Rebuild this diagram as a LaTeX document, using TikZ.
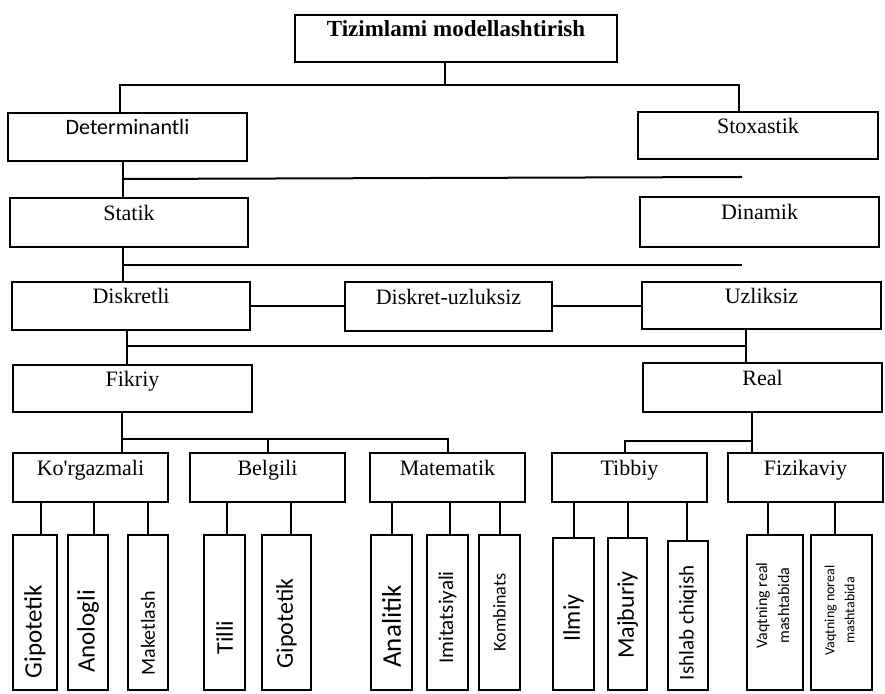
\documentclass[tikz,border=0pt]{standalone}
\usepackage{fontspec}
\setmainfont{Liberation Serif}
\newfontfamily\carlito{Carlito}
\usepackage{graphicx}
\usetikzlibrary{calc,positioning}

\newcommand{\vtext}[2][8]{\rotatebox{90}{#2\kern#1pt}}
\newcommand{\vtwo}[3][0]{\rotatebox{90}{\begin{tabular}{@{}c@{}}#2\\[3pt]#3\end{tabular}\kern#1pt}}

\tikzset{
    box/.style={draw, line width=1pt, inner sep=0pt, text height=8pt, text depth=10pt,
        font=\fontsize{11}{13}\selectfont},
    sub/.style={box, minimum width=77.5pt, minimum height=24.5pt},
    leaf/.style={draw, line width=1pt, inner sep=0pt, minimum height=77.5pt,
        font=\carlito\fontsize{#1}{#1}\selectfont},
    link/.style={line width=1pt},
}

\begin{document}
\begin{tikzpicture}[x=0.5pt,y=-0.5pt]
    \useasboundingbox (0,0) rectangle (885,694);

    % upper levels
    \node[box, minimum width=161pt, minimum height=23.5pt,
        font=\bfseries\fontsize{11.5}{13}\selectfont] (title) at (456,38.5) {Tizimlami modellashtirish};
    \node[box, minimum width=119.5pt, minimum height=24pt,
        font=\carlito\fontsize{11}{13}\selectfont] (det) at (127.5,137) {Determinantli};
    \node[box, minimum width=120pt, minimum height=23.5pt] (sto) at (758,135.5) {Stoxastik};
    \node[box, minimum width=119pt, minimum height=24.5pt] (stat) at (129,222.5) {Statik};
    \node[box, minimum width=119.5pt, minimum height=25pt] (din) at (759.5,222) {Dinamik};
    \node[box, minimum width=119pt, minimum height=24pt] (disk) at (131,306) {Diskretli};
    \node[box, minimum width=103.5pt, minimum height=24.5pt] (dku) at (448.5,306.5) {Diskret-uzluksiz};
    \node[box, minimum width=119.5pt, minimum height=23.5pt] (uzl) at (761.5,305.5) {Uzliksiz};
    \node[box, minimum width=119.5pt, minimum height=23.5pt] (fik) at (132.5,388.5) {Fikriy};
    \node[box, minimum width=119.5pt, minimum height=24.5pt] (real) at (762.5,387.5) {Real};

    % model kinds
    \node[sub] (korg) at (90.5,477.5) {Ko\textquotesingle rgazmali};
    \node[sub] (bel) at (267.5,477.5) {Belgili};
    \node[sub] (mat) at (447.5,477.5) {Matematik};
    \node[sub] (tib) at (629.5,477.5) {Tibbiy};
    \node[sub] (fiz) at (805.5,477.5) {Fizikaviy};

    % leaves
    \node[leaf=12.5, minimum width=22pt] (gip) at (35,612.5) {\vtext[19]{Gipotetik}};
    \node[leaf=12.5, minimum width=20pt] (ano) at (88,612.5) {\vtext[19]{Anologli}};
    \node[leaf=10, minimum width=20pt] (mak) at (148,612.5) {\vtext[21]{Maketlash}};
    \node[leaf=12, minimum width=20.5pt] (til) at (224.5,612.5) {\vtext[25]{Tilli}};
    \node[leaf=12, minimum width=24.5pt] (gipb) at (286.5,612.5) {\vtext[11]{Gipotetik}};
    \node[leaf=13.5, minimum width=20.5pt] (ana) at (391.5,612.5) {\vtext[14]{Analitik}};
    \node[leaf=10.5, minimum width=20.5pt] (imi) at (447.5,612.5) {\vtext[5]{Imitatsiyali}};
    \node[leaf=9, minimum width=20.5pt] (kom) at (499.5,612.5) {\vtext[0]{Kombinats}};
    \node[leaf=12, minimum width=20.5pt, minimum height=76pt] (ilm) at (573.5,614) {\vtext[4]{Ilmiy}};
    \node[leaf=12, minimum width=19.5pt, minimum height=76pt] (maj) at (627.5,614) {\vtext[1]{Majburiy}};
    \node[leaf=10.5, minimum width=20pt, minimum height=74.5pt] (ish) at (688,615.5) {\vtext[7]{Ishlab chiqish}};
    \node[leaf=8, minimum width=28pt] (vr) at (775,612.5) {\vtwo[-7]{Vaqtning real}{mashtabida}};
    \node[leaf=7, minimum width=30.5pt] (vn) at (841.5,612.5) {\vtwo[-2]{Vaqtning noreal}{mashtabida}};

    % title split
    \coordinate (j1) at ($(title.south)+(-11,22)$);
    \draw[link] (j1 |- title.south) -- (j1);
    \draw[link] ($(det.north)+(-7.5,0)$) |- (j1) -| ($(sto.north)+(-19,0)$);

    % Determinantli -> Statik
    \draw[link] ($(det.south)+(-4.5,0)$) -- ($(stat.north)+(-6,0)$);
    \coordinate (j2) at ($(det.south)+(-4.5,17)$);
    \coordinate (e2) at ($(din.north)+(-17.5,-19)$);
    \draw[link] (j2) -- (e2);

    % Statik -> Diskretli
    \draw[link] ($(stat.south)+(-6,0)$) -- ($(disk.north)+(-8,0)$);
    \coordinate (j3) at ($(stat.south)+(-6,17)$);
    \coordinate (e3) at ($(din.south)+(-17.5,17)$);
    \draw[link] (j3) -- (e3);

    % discrete row
    \draw[link] (disk.east) -- (disk.east -| dku.west);
    \draw[link] (dku.east) -- (dku.east -| uzl.west);

    % Diskretli -> Fikriy, Uzliksiz -> Real
    \draw[link] ($(disk.south)+(-4,0)$) -- ($(fik.north)+(-5.5,0)$);
    \draw[link] ($(uzl.south)+(-15.5,0)$) -- ($(real.north)+(-16.5,0)$);
    \coordinate (j5) at ($(disk.south)+(-4,15)$);
    \coordinate (r5) at ($(real.north)+(-16.5,0)$);
    \draw[link] (j5) -- (j5 -| r5);

    % Fikriy split
    \coordinate (f0) at ($(fik.south)+(-10.5,0)$);
    \coordinate (j6) at ($(f0)+(0,26)$);
    \draw[link] (f0) -- (f0 |- korg.north);
    \draw[link] (j6) -| ($(mat.north)+(0.5,0)$);
    \draw[link] (j6 -| bel.north) -- (bel.north);

    % Real split
    \coordinate (r0) at ($(real.south)+(-10.5,0)$);
    \coordinate (j7) at ($(r0)+(0,28)$);
    \draw[link] (r0) -- (r0 |- fiz.north);
    \draw[link] (j7) -| ($(tib.north)+(-4.5,0)$);

    % leaves
    \foreach \p/\c/\dx in {korg/gip/6, korg/ano/6, korg/mak/0, bel/til/2.5, bel/gipb/4.5,
        mat/ana/0.5, mat/imi/2.5, mat/kom/0, tib/ilm/0, tib/maj/0.5, tib/ish/-1,
        fiz/vr/-7, fiz/vn/-6.5}
        \draw[link] ($(\c.north)+(\dx,0)$) coordinate (lt) -- (lt |- \p.south);

\end{tikzpicture}
\end{document}
